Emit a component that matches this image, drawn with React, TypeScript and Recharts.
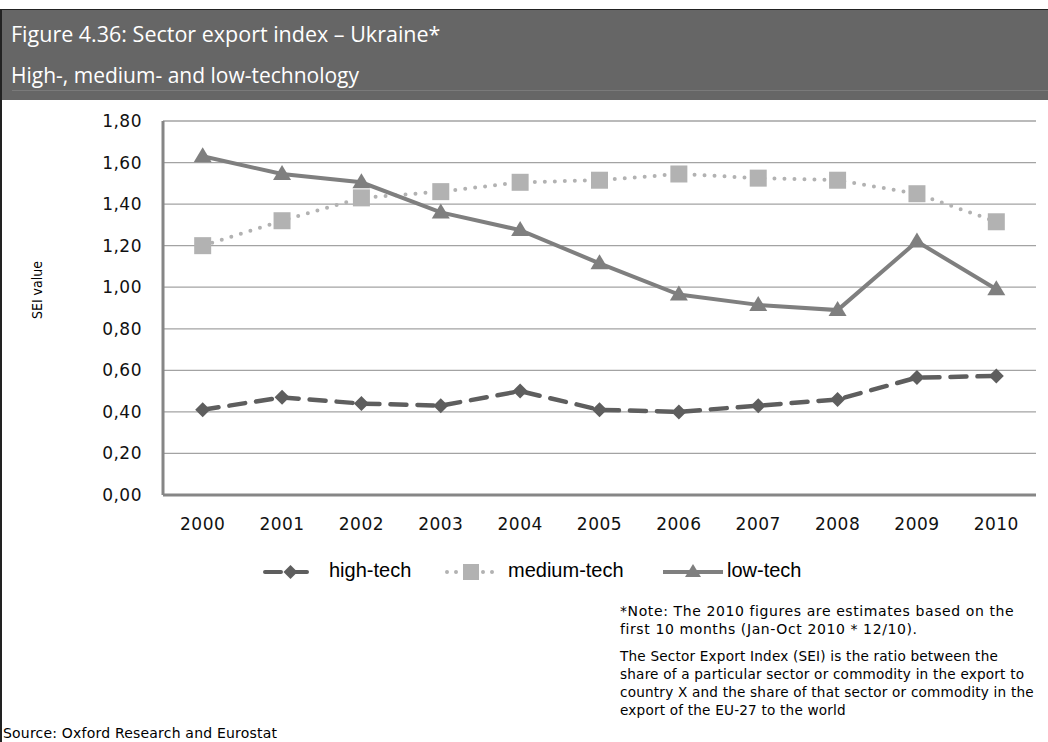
import { LineChart, Line, XAxis, YAxis, CartesianGrid, Label } from 'recharts';

const years = ['2000', '2001', '2002', '2003', '2004', '2005', '2006', '2007', '2008', '2009', '2010'];
const highTech = [0.41, 0.47, 0.44, 0.43, 0.5, 0.41, 0.4, 0.43, 0.46, 0.565, 0.573];
const mediumTech = [1.2, 1.32, 1.43, 1.46, 1.505, 1.515, 1.545, 1.525, 1.515, 1.45, 1.315];
const lowTech = [1.63, 1.545, 1.505, 1.36, 1.275, 1.115, 0.965, 0.915, 0.89, 1.22, 0.99];
const yTicks = [0, 0.2, 0.4, 0.6, 0.8, 1.0, 1.2, 1.4, 1.6, 1.8];

const data = years.map((year, i) => ({
    year,
    high: highTech[i],
    medium: mediumTech[i],
    low: lowTech[i],
}));

const HIGH = '#5e5e5e';
const MEDIUM = '#b2b2b2';
const LOW = '#7f7f7f';
const AXIS = '#868686';

const Diamond = (props: any) => {
    const { cx, cy } = props;
    const r = 7.5;
    return <polygon points={`${cx},${cy - r} ${cx + r},${cy} ${cx},${cy + r} ${cx - r},${cy}`} fill={HIGH} />;
};

const Square = (props: any) => {
    const { cx, cy } = props;
    return <rect x={cx - 8.5} y={cy - 8.5} width={17} height={17} fill={MEDIUM} />;
};

const Triangle = (props: any) => {
    const { cx, cy } = props;
    return <polygon points={`${cx},${cy - 9} ${cx + 9},${cy + 6} ${cx - 9},${cy + 6}`} fill={LOW} />;
};

const legendItems = [
    { name: 'high-tech', left: 263, width: 55, textLeft: 329, kind: 'high' },
    { name: 'medium-tech', left: 444, width: 54, textLeft: 508, kind: 'medium' },
    { name: 'low-tech', left: 663, width: 60, textLeft: 727, kind: 'low' },
];

const LegendSymbol = ({ kind, width }: { kind: string; width: number }) => {
    const c = width / 2;
    if (kind === 'high') {
        return (
            <svg width={width} height={20}>
                <line x1={2} y1={10} x2={width - 2} y2={10} stroke={HIGH} strokeWidth={4} strokeDasharray="16 10" strokeLinecap="round" />
                <polygon points={`${c},${3} ${c + 7},${10} ${c},${17} ${c - 7},${10}`} fill={HIGH} />
            </svg>
        );
    }
    if (kind === 'medium') {
        return (
            <svg width={width} height={20}>
                <line x1={3} y1={10} x2={width - 2} y2={10} stroke={MEDIUM} strokeWidth={4} strokeDasharray="0 9" strokeLinecap="round" />
                <rect x={c - 8} y={2} width={16} height={16} fill={MEDIUM} />
            </svg>
        );
    }
    return (
        <svg width={width} height={20}>
            <line x1={0} y1={10} x2={width} y2={10} stroke={LOW} strokeWidth={4} />
            <polygon points={`${c},${2} ${c + 8},${15} ${c - 8},${15}`} fill={LOW} />
        </svg>
    );
};

export default function App() {
    const tickStyle = { fill: '#111', fontSize: 17, fontFamily: 'DejaVu Sans', letterSpacing: 0.5 };
    return (
        <div style={{ position: 'absolute', left: 0, top: 0, width: 1048, height: 742, background: '#fff', overflow: 'hidden', fontFamily: 'DejaVu Sans' }}>
            <div style={{ position: 'absolute', left: 0, top: 9, width: 1048, height: 733, borderLeft: '2px solid #222', boxSizing: 'border-box' }} />
            <div style={{ position: 'absolute', left: 0, top: 9, width: 1048, height: 91, background: '#666', borderTop: '1px solid #222', borderLeft: '2px solid #222', boxSizing: 'border-box' }}>
                <div style={{ position: 'absolute', left: 9, top: 9, color: '#fff', fontFamily: 'Open Sans', fontSize: 21.5, whiteSpace: 'nowrap' }}>Figure 4.36: Sector export index – Ukraine*</div>
                <div style={{ position: 'absolute', left: 9, top: 51, color: '#fff', fontFamily: 'Open Sans', fontSize: 21, whiteSpace: 'nowrap' }}>High-, medium- and low-technology</div>
                <div style={{ position: 'absolute', left: 10, top: 80, width: 1040, height: 1, background: '#7a7a7a' }} />
            </div>

            <div style={{ position: 'absolute', left: 0, top: 0 }}>
                <LineChart width={1048} height={560} data={data} margin={{ top: 121, right: 12, left: 103, bottom: 25 }}>
                    <CartesianGrid vertical={false} stroke="#a3a3a3" strokeWidth={1.3} />
                    <XAxis
                        dataKey="year"
                        scale="band"
                        height={40}
                        tickSize={0}
                        tickMargin={23}
                        axisLine={{ stroke: AXIS, strokeWidth: 3 }}
                        tickLine={false}
                        tick={tickStyle}
                    />
                    <YAxis
                        width={60}
                        domain={[0, 1.8]}
                        ticks={yTicks}
                        interval={0}
                        tickSize={0}
                        tickMargin={21}
                        axisLine={{ stroke: AXIS, strokeWidth: 3 }}
                        tickLine={false}
                        tick={tickStyle}
                        tickFormatter={(v: number) => v.toFixed(2).replace('.', ',')}
                    >
                        <Label
                            content={() => (
                                <text x={38} y={290} transform="rotate(-90 38 290)" textAnchor="middle" dominantBaseline="middle" fontFamily="'DejaVu Sans Condensed', 'Liberation Sans Narrow', sans-serif" fontSize={14} fill="#000">
                                    SEI value
                                </text>
                            )}
                        />
                    </YAxis>
                    <Line dataKey="high" name="high-tech" stroke={HIGH} strokeWidth={4.5} strokeDasharray="16 11" strokeLinecap="round" dot={<Diamond />} activeDot={false} isAnimationActive={false} />
                    <Line dataKey="medium" name="medium-tech" stroke={MEDIUM} strokeWidth={4} strokeDasharray="0 10" strokeLinecap="round" dot={<Square />} activeDot={false} isAnimationActive={false} />
                    <Line dataKey="low" name="low-tech" stroke={LOW} strokeWidth={4} dot={<Triangle />} activeDot={false} isAnimationActive={false} />
                </LineChart>
            </div>

            {legendItems.map((item) => (
                <div key={item.name}>
                    <div style={{ position: 'absolute', left: item.left, top: 562 }}>
                        <LegendSymbol kind={item.kind} width={item.width} />
                    </div>
                    <div style={{ position: 'absolute', left: item.textLeft, top: 559, fontFamily: 'Liberation Sans', fontSize: 20, color: '#000', whiteSpace: 'nowrap' }}>{item.name}</div>
                </div>
            ))}

            <div style={{ position: 'absolute', left: 620, top: 602, fontSize: 14, letterSpacing: 0.6, lineHeight: '18px', color: '#000', whiteSpace: 'nowrap' }}>
                <div>*Note: The 2010 figures are estimates based on the</div>
                <div>first 10 months (Jan-Oct 2010 * 12/10).</div>
                <div style={{ marginTop: 9, fontSize: 13.6, letterSpacing: 0.2 }}>
                    <div>The Sector Export Index (SEI) is the ratio between the</div>
                    <div>share of a particular sector or commodity in the export to</div>
                    <div>country X and the share of that sector or commodity in the</div>
                    <div>export of the EU-27 to the world</div>
                </div>
            </div>
            <div style={{ position: 'absolute', left: 3, top: 724, fontSize: 14, letterSpacing: 0.2, lineHeight: '18px', color: '#000', whiteSpace: 'nowrap' }}>Source: Oxford Research and Eurostat</div>
        </div>
    );
}
